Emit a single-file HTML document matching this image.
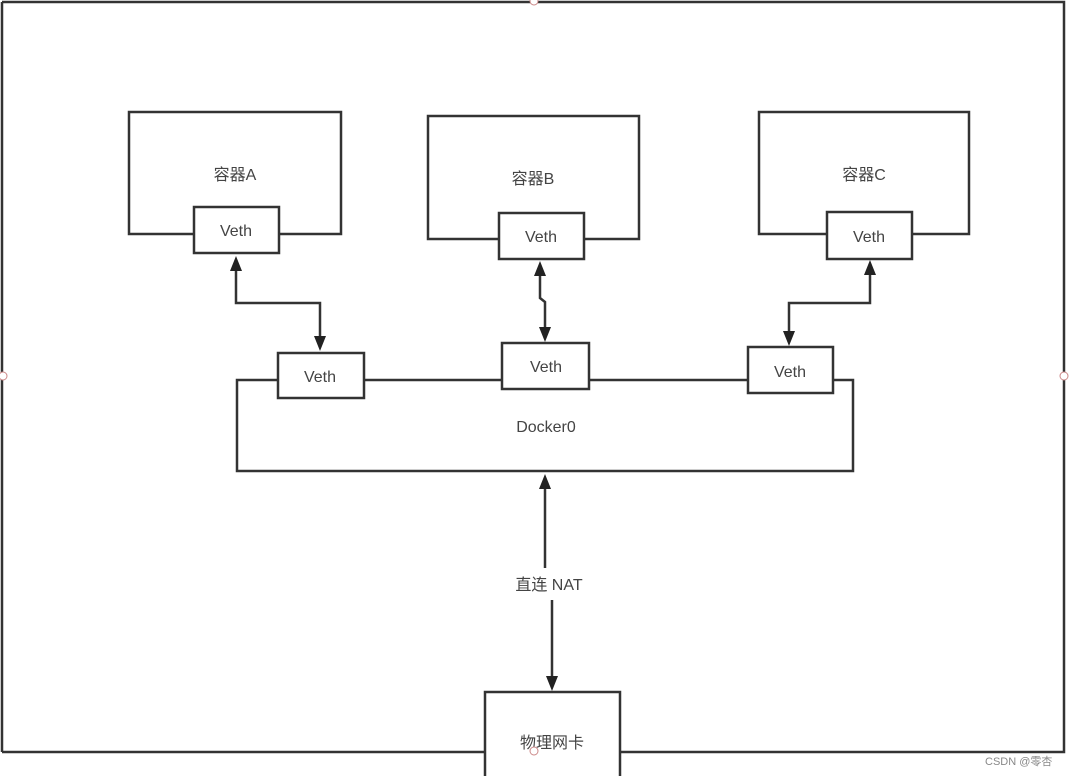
<!DOCTYPE html><html><head><meta charset="utf-8"><style>body{margin:0;background:#fff;width:1069px;height:776px;overflow:hidden}</style></head><body>
<svg width="1069" height="776" xmlns="http://www.w3.org/2000/svg" font-family="Liberation Sans, Noto Sans CJK SC, sans-serif" font-size="16" fill="#444">
<g stroke="#333" stroke-width="2.5" fill="none">
<path d="M2,2 H1064 V752 H620 M485,752 H2 Z"/>
<path d="M2,2 V752"/>
<rect x="485" y="692" width="135" height="90" fill="#fff"/>
<rect x="129" y="112" width="212" height="122"/>
<rect x="428" y="116" width="211" height="123"/>
<rect x="759" y="112" width="210" height="122"/>
<rect x="237" y="380" width="616" height="91"/>
<rect x="194" y="207" width="85" height="46" fill="#fff"/>
<rect x="499" y="213" width="85" height="46" fill="#fff"/>
<rect x="827" y="212" width="85" height="47" fill="#fff"/>
<rect x="278" y="353" width="86" height="45" fill="#fff"/>
<rect x="502" y="343" width="87" height="46" fill="#fff"/>
<rect x="748" y="347" width="85" height="46" fill="#fff"/>
<path d="M236,268 V303 H320 V338"/>
<path d="M540,272 V298 L545,302 V330"/>
<path d="M870,272 V303 H789 V334"/>
<path d="M545,486 V568"/>
<path d="M552,600 V678"/>
</g>
<g fill="#222">
<polygon points="230,271 242,271 236,256"/>
<polygon points="314,336 326,336 320,351"/>
<polygon points="534,276 546,276 540,261"/>
<polygon points="539,327 551,327 545,342"/>
<polygon points="864,275 876,275 870,260"/>
<polygon points="783,331 795,331 789,346"/>
<polygon points="539,489 551,489 545,474"/>
<polygon points="546,676 558,676 552,691"/>
</g>
<g text-anchor="middle">
<text x="235" y="180">容器A</text>
<text x="533" y="184">容器B</text>
<text x="864" y="180">容器C</text>
<text x="236" y="236">Veth</text>
<text x="541" y="242">Veth</text>
<text x="869" y="242">Veth</text>
<text x="320" y="382">Veth</text>
<text x="546" y="372">Veth</text>
<text x="790" y="377">Veth</text>
<text x="546" y="432">Docker0</text>
<text x="549" y="590">直连 NAT</text>
<text x="552" y="748">物理网卡</text>
</g>
<text x="985" y="765" font-size="11" fill="#888">CSDN @零杏</text>
<g fill="#fff" stroke="#c88" stroke-width="1"><circle cx="534" cy="1" r="4"/><circle cx="3" cy="376" r="4"/><circle cx="1064" cy="376" r="4"/><circle cx="534" cy="751" r="4"/></g>
</svg></body></html>
